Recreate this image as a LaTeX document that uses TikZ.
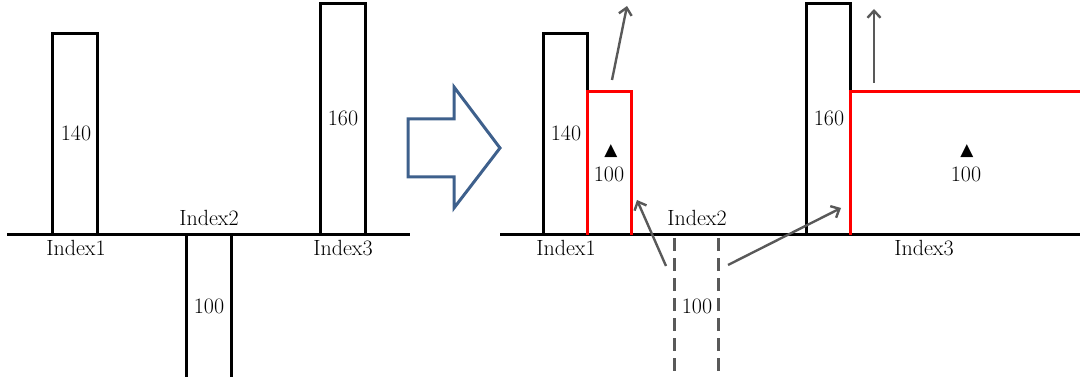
\documentclass[tikz,border=0pt]{standalone}
\usepackage{fontspec}
\newfontfamily\symfont{DejaVu Sans}
\usetikzlibrary{arrows.meta}
\definecolor{barred}{RGB}{255,0,0}
\definecolor{arrowgray}{RGB}{89,89,89}
\definecolor{shiftblue}{RGB}{62,96,140}
\tikzset{
  bar/.style={line width=3pt},
  newbar/.style={line width=3pt,draw=barred},
  oldbar/.style={line width=3pt,draw=arrowgray,dash pattern=on 13pt off 7pt},
  lbl/.style={inner sep=1pt,font=\fontsize{22}{24}\selectfont},
  tri/.style={inner sep=0pt,font=\symfont\fontsize{17}{18}\selectfont},
  move/.style={line width=2.4pt,draw=arrowgray,-{Straight Barb[length=7pt,width=13pt]}},
}
\begin{document}
\begin{tikzpicture}[x=1pt,y=-1pt,line join=miter]
  \useasboundingbox (0,0) rectangle (1080,377);
  % before
  \draw[bar] (7,235) -- (410,235);
  \draw[bar] (52,235) -- (52,34) -- (97,34) -- (97,235);
  \draw[bar] (320,235) -- (320,4) -- (365,4) -- (365,235);
  \foreach \x in {186,231}
    \draw[bar] (\x,235) -- (\x,377);
  \node[lbl] (a140) at (76,133) {140};
  \node[lbl] (a160) at (343,118) {160};
  \node[lbl] (a100) at (209,306) {100};
  \node[lbl] (aidx1) at (76,248) {Index1};
  \node[lbl] (aidx2) at (209,218) {Index2};
  \node[lbl] (aidx3) at (343,248) {Index3};
  % block arrow
  \draw[shiftblue,line width=3pt] (408,119) -- (454,119) -- (454,87) -- (500,148)
    -- (454,208) -- (454,177) -- (408,177) -- cycle;
  % after
  \draw[bar] (500,235) -- (1080,235);
  \draw[bar] (543,235) -- (543,34) -- (587,34) -- (587,92);
  \draw[newbar] (587,235) -- (587,92) -- (631,92) -- (631,235);
  \draw[bar] (806,235) -- (806,4) -- (850,4) -- (850,92);
  \draw[newbar] (850,235) -- (850,92) -- (1080,92);
  \foreach \x in {674,718}
    \draw[oldbar] (\x,238) -- (\x,377);
  \node[lbl] (b140) at (566,133) {140};
  \node[lbl] (b160) at (829,118) {160};
  \node[tri] (tri1) at (611,151) {▲};
  \node[lbl] (b100a) at (609,174) {100};
  \node[tri] (tri3) at (967,151) {▲};
  \node[lbl] (b100c) at (966,174) {100};
  \node[lbl] (b100b) at (697,306) {100};
  \node[lbl] (bidx1) at (566,248) {Index1};
  \node[lbl] (bidx2) at (697,218) {Index2};
  \node[lbl] (bidx3) at (924,248) {Index3};
  \coordinate (up1) at (612,80);
  \coordinate (up1end) at (627,6);
  \coordinate (up3) at (874,83);
  \coordinate (up3end) at (874,9);
  \coordinate (from2a) at (666,266);
  \coordinate (to1) at (637,200);
  \coordinate (from2b) at (728,265);
  \coordinate (to3) at (841,208);
  \draw[move] (up1) -- (up1end);
  \draw[move] (up3) -- (up3end);
  \draw[move] (from2a) -- (to1);
  \draw[move] (from2b) -- (to3);
\end{tikzpicture}
\end{document}
